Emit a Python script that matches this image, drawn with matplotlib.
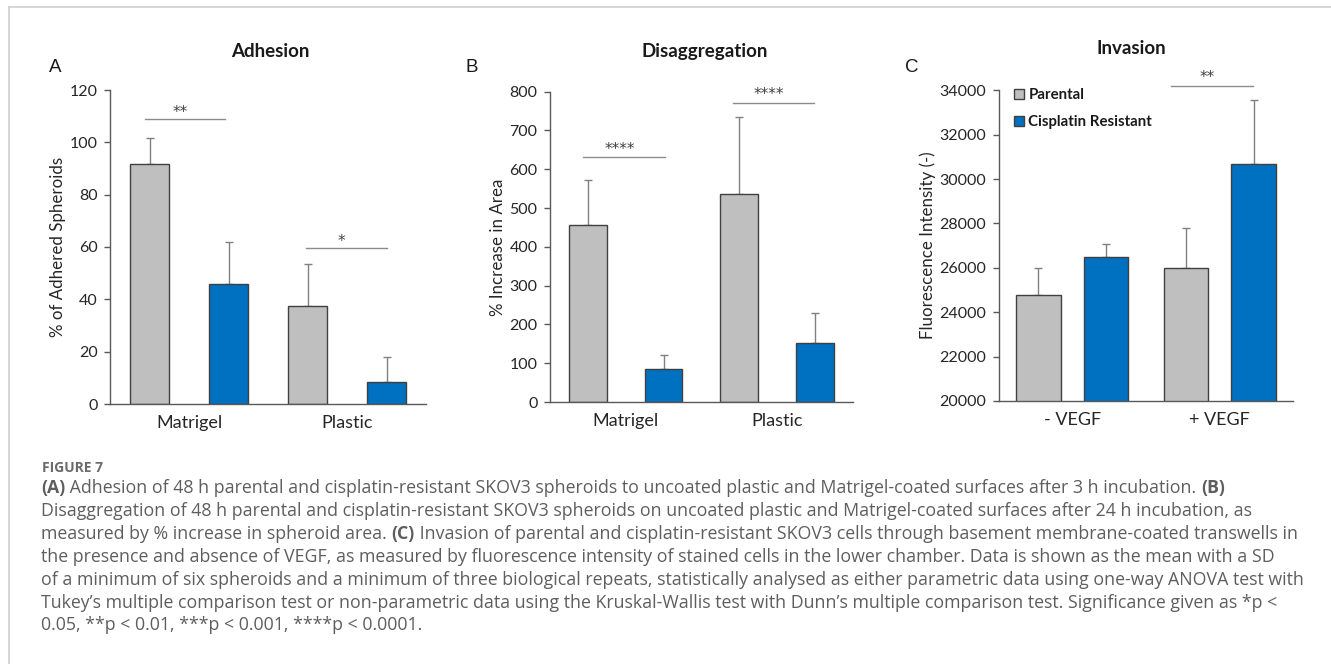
"""
Figure 7 recreation: adhesion, disaggregation and invasion of SKOV3 spheroids.
"""

import numpy as np
import matplotlib
matplotlib.use("Agg")
import matplotlib.pyplot as plt
from matplotlib.lines import Line2D

# ============================================================
# DATA
# ============================================================

groups = ["Parental", "Cisplatin Resistant"]

# Panel A - adhesion (% of adhered spheroids)
surface_labels = ["Matrigel", "Plastic"]
adhesion_parental = [91.7, 37.6]
adhesion_parental_sd = [9.8, 16.0]
adhesion_resistant = [45.9, 8.4]
adhesion_resistant_sd = [16.0, 9.4]
adhesion_sig = ["**", "*"]

# Panel B - disaggregation (% increase in area)
disagg_parental = [456, 536]
disagg_parental_sd = [116, 199]
disagg_resistant = [84, 153]
disagg_resistant_sd = [37, 77]
disagg_sig = ["****", "****"]

# Panel C - invasion (fluorescence intensity)
vegf_labels = ["- VEGF", "+ VEGF"]
invasion_parental = [24780, 25980]
invasion_parental_sd = [1220, 1800]
invasion_resistant = [26470, 30660]
invasion_resistant_sd = [620, 2900]
invasion_sig = ["", "**"]

caption_title = "FIGURE 7"
caption_lines = [
    [("(A)", "bold"),
     (" Adhesion of 48 h parental and cisplatin-resistant SKOV3 spheroids to uncoated plastic and "
      "Matrigel-coated surfaces after 3 h incubation. ", "normal"),
     ("(B)", "bold")],
    [("Disaggregation of 48 h parental and cisplatin-resistant SKOV3 spheroids on uncoated plastic and "
      "Matrigel-coated surfaces after 24 h incubation, as", "normal")],
    [("measured by % increase in spheroid area. ", "normal"),
     ("(C)", "bold"),
     (" Invasion of parental and cisplatin-resistant SKOV3 cells through basement membrane-coated transwells in",
      "normal")],
    [("the presence and absence of VEGF, as measured by fluorescence intensity of stained cells in the lower "
      "chamber. Data is shown as the mean with a SD", "normal")],
    [("of a minimum of six spheroids and a minimum of three biological repeats, statistically analysed as "
      "either parametric data using one-way ANOVA test with", "normal")],
    [("Tukey\u2019s multiple comparison test or non-parametric data using the Kruskal-Wallis test with "
      "Dunn\u2019s multiple comparison test. Significance given as *p <", "normal")],
    [("0.05, **p < 0.01, ***p < 0.001, ****p < 0.0001.", "normal")],
]

# ============================================================
# STYLE
# ============================================================

GREY = "#bfbfbf"
BLUE = "#0070c0"
EDGE = "#404040"
ERR = "#808080"
AXIS = "#595959"
FONT = "Lato"

W, H = 1331, 664
fig = plt.figure(figsize=(W / 100, H / 100), dpi=100)


def fx(px):
    return px / W


def fy(px):
    return 1 - px / H


def draw_panel(box, cats, par, par_sd, res, res_sd, offset, width,
               ylim, yticks, ylabel, sig, sig_geom):
    left, top, right, bottom = box
    ax = fig.add_axes([fx(left), fy(bottom), fx(right - left), (bottom - top) / H])
    x = np.arange(len(cats))

    b1 = ax.bar(x - offset, par, width, color=GREY, edgecolor=EDGE, linewidth=1,
                label=groups[0], zorder=2)
    b2 = ax.bar(x + offset, res, width, color=BLUE, edgecolor=EDGE, linewidth=1,
                label=groups[1], zorder=2)

    # upper error bars only
    for xs, vals, sd in [(x - offset, par, par_sd), (x + offset, res, res_sd)]:
        ax.errorbar(xs, vals, yerr=[np.zeros(len(sd)), sd], fmt="none",
                    ecolor=ERR, elinewidth=1, capsize=3, capthick=1, zorder=1)

    ax.set_xlim(-0.5, len(cats) - 0.5)
    ax.set_ylim(*ylim)
    ax.set_yticks(yticks)
    ax.set_yticklabels([str(t) for t in yticks], fontsize=11.5, family=FONT, color="#262626")
    ax.set_xticks(x)
    ax.set_xticklabels(cats, fontsize=13, family=FONT, color="#262626")
    ax.tick_params(axis="x", length=0, pad=8)
    ax.tick_params(axis="y", length=4, width=1, color=AXIS, pad=5)
    ax.set_ylabel(ylabel, fontsize=12.2, family=FONT, color="#262626", labelpad=2.5)

    for s in ["top", "right"]:
        ax.spines[s].set_visible(False)
    for s in ["left", "bottom"]:
        ax.spines[s].set_color(AXIS)
        ax.spines[s].set_linewidth(1)

    # significance bars
    for i, label in enumerate(sig):
        if not label:
            continue
        x0, x1, yl, ys = sig_geom[i]
        ax.plot([i + x0, i + x1], [yl, yl], color="#8c8c8c", lw=1, clip_on=False)
        ax.text(i + (x0 + x1) / 2 - 0.03, ys, label, ha="center", va="center",
                fontsize=11, color="#404040", clip_on=False)
    return ax, b1, b2


axA, _, _ = draw_panel((110, 90, 426, 404), surface_labels,
                       adhesion_parental, adhesion_parental_sd,
                       adhesion_resistant, adhesion_resistant_sd,
                       0.25, 0.25, (0, 120), [0, 20, 40, 60, 80, 100, 120],
                       "% of Adhered Spheroids", adhesion_sig,
                       [(-0.28, 0.23, 108.8, 111.5), (-0.26, 0.25, 59.5, 62.0)])

axB, _, _ = draw_panel((550, 91.7, 852.7, 402), surface_labels,
                       disagg_parental, disagg_parental_sd,
                       disagg_resistant, disagg_resistant_sd,
                       0.25, 0.25, (0, 800), [0, 100, 200, 300, 400, 500, 600, 700, 800],
                       "% Increase in Area", disagg_sig,
                       [(-0.28, 0.26, 632, 652), (-0.29, 0.245, 772, 793)])

axC, bc1, bc2 = draw_panel((998.7, 90.3, 1293.3, 401), vegf_labels,
                           invasion_parental, invasion_parental_sd,
                           invasion_resistant, invasion_resistant_sd,
                           0.23, 0.30, (20000, 34000),
                           [20000, 22000, 24000, 26000, 28000, 30000, 32000, 34000],
                           "Fluorescence Intensity (-)", invasion_sig,
                           [None, (-0.33, 0.225, 34210, 34580)])

leg = axC.legend(handles=[bc1, bc2], loc="upper left", bbox_to_anchor=(0.052, 1.006),
                 frameon=False, borderpad=0, borderaxespad=0,
                 handlelength=0.65, handleheight=0.65, handletextpad=0.3,
                 labelspacing=0.85, prop={"family": FONT, "weight": "bold", "size": 10.8})
for t in leg.get_texts():
    t.set_color("#1a1a1a")

# ============================================================
# TITLES AND PANEL LETTERS
# ============================================================

for xc, yc, title in [(270, 51.5, "Adhesion"), (705, 52, "Disaggregation"), (1131, 48, "Invasion")]:
    fig.text(fx(xc), fy(yc), title, ha="center", va="center", fontsize=13.5,
             fontweight="bold", family=FONT, color="#1a1a1a")

for xc, letter in [(55, "A"), (472, "B"), (912, "C")]:
    fig.text(fx(xc), fy(67), letter, ha="center", va="center", fontsize=13.5,
             family="Liberation Sans", color="#1a1a1a")

# ============================================================
# CAPTION
# ============================================================

fig.text(fx(41.5), fy(472), caption_title, ha="left", va="baseline", fontsize=10,
         fontweight="bold", family="Open Sans", color="#6b6b6b")

renderer = fig.canvas.get_renderer()
for i, segments in enumerate(caption_lines):
    xpos = fx(41)
    ypos = fy(493 + 22.9 * i)
    for text, weight in segments:
        t = fig.text(xpos, ypos, text, ha="left", va="baseline", fontsize=12.75,
                     fontweight=weight, family="Open Sans", color="#5e5e5e")
        xpos += t.get_window_extent(renderer).width / W

# frame lines
fig.add_artist(Line2D([fx(9.3), 1], [fy(7.3), fy(7.3)], color="#d0d0d0", lw=1.2))
fig.add_artist(Line2D([fx(9.3), fx(9.3)], [fy(7.3), 0], color="#d0d0d0", lw=1.2))

fig.savefig("out.png", dpi=100)
